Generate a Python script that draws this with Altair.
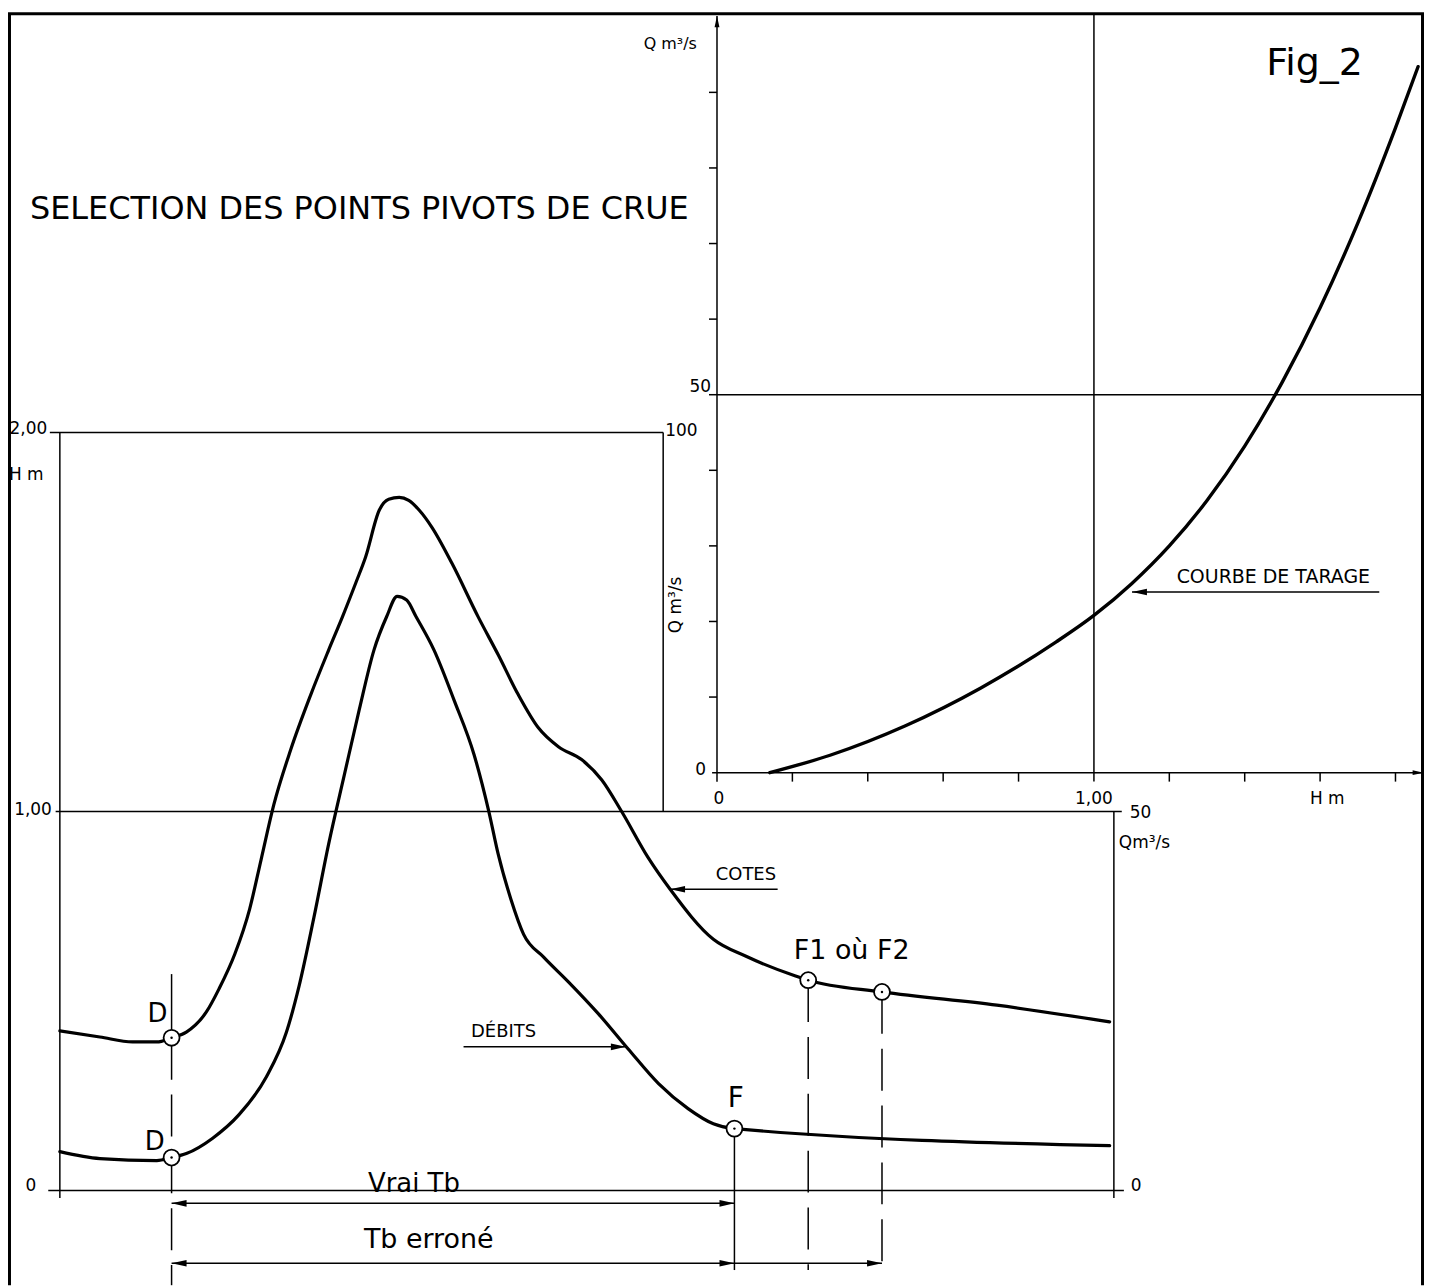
import altair as alt
import pandas as pd

W, HGT = 1420, 1279
FONT = "DejaVu Sans"

# ---------------- data ----------------
# hydrograph of stages (COTES), t in hours, H in m
cotes_t = [0, 3.8, 6.9, 9.2, 10.6, 12.0, 13.9, 15.1, 16.6, 18.0, 19.1, 20.3, 21.9, 23.8,
           25.5, 26.8, 28.1, 29.0, 30.3, 31.2, 32.2, 33.1, 34.1, 35.3, 37.2, 39.7, 41.6,
           43.5, 45.4, 47.3, 49.5, 51.4, 53.3, 55.8, 57.9, 62.0, 65.1, 69.8, 71.0, 78.0,
           88.9, 99.6]
cotes_h = [0.421, 0.405, 0.392, 0.392, 0.403, 0.418, 0.471, 0.532, 0.624, 0.742, 0.874,
           1.018, 1.163, 1.308, 1.426, 1.513, 1.605, 1.671, 1.795, 1.824, 1.829, 1.821,
           1.795, 1.750, 1.655, 1.513, 1.413, 1.308, 1.221, 1.171, 1.137, 1.084, 1.000,
           0.879, 0.795, 0.663, 0.618, 0.566, 0.555, 0.524, 0.489, 0.445]
# hydrograph of discharges (DEBITS), Q in m3/s
debits_t = [0, 3.8, 9.2, 10.6, 12.0, 14.5, 17.0, 19.6, 21.5, 22.7, 24.1, 25.5, 27.0, 28.4,
            29.8, 31.0, 32.0, 32.9, 33.8, 35.5, 37.4, 39.3, 40.7, 41.6, 42.8, 44.0, 45.9,
            48.2, 51.1, 53.9, 56.8, 59.6, 62.0, 64.0, 99.6]
debits_q = [5.13, 4.21, 3.95, 4.34, 4.87, 6.9, 10.0, 15.0, 20.9, 27.0, 36.0, 45.7, 54.9,
            63.4, 71.3, 75.7, 78.4, 77.9, 75.7, 71.3, 64.7, 57.5, 50.0, 44.3, 38.4, 33.8,
            30.8, 27.6, 23.3, 18.7, 14.1, 10.8, 8.8, 8.16, 5.92]
# rating curve (COURBE DE TARAGE)
tarage_h = [0.14, 0.3, 0.5, 0.7, 0.9, 1.0, 1.1, 1.2, 1.3, 1.4, 1.5, 1.6, 1.7, 1.8, 1.86]
tarage_q = [0.0, 2.3, 6.2, 11.2, 17.3, 20.8, 25.0, 30.0, 36.0, 43.2, 51.7, 61.5, 72.7, 85.3, 93.4]

# pivot points
T_D, T_F, T_F1, T_F2 = 10.6, 64.0, 71.0, 78.0
pivot_h_t = [T_D, T_F1, T_F2]
pivot_h_v = [0.403, 0.555, 0.524]
pivot_q_t = [T_D, T_F]
pivot_q_v = [4.34, 8.16]

inset_h_ticks = [0.2, 0.4, 0.6, 0.8, 1.0, 1.2, 1.4, 1.6, 1.8]
inset_q_ticks = [10, 20, 30, 40, 50, 60, 70, 80, 90]

# ---------------- scales (hand-placed panels on one canvas) ----------------
XM = alt.Scale(domain=[-4.9196, 129.423], nice=False, zero=False)   # time
YH = alt.Scale(domain=[-0.25, 3.11579], nice=False, zero=False)     # stage H (m)
YQ = alt.Scale(domain=[-12.5, 155.789], nice=False, zero=False)     # discharge Q
XI = alt.Scale(domain=[-1.88095, 1.87566], nice=False, zero=False)  # inset H
YI = alt.Scale(domain=[-67.810, 100.923], nice=False, zero=False)   # inset Q

ARROW = "M0,0L-1,-0.22L-1,0.22Z"
layers = []


def X(f, s):
    return alt.X(f"{f}:Q", scale=s, axis=None)


def Y(f, s):
    return alt.Y(f"{f}:Q", scale=s, axis=None)


def curve(xs_vals, ys_vals, xs, ys, width=3.2):
    df = pd.DataFrame({"x": xs_vals, "y": ys_vals})
    return alt.Chart(df).mark_line(color="black", strokeWidth=width, interpolate="monotone",
                                   strokeCap="round", strokeJoin="round").encode(
        x=X("x", xs), y=Y("y", ys))


def segs(rows, xs, ys, width=1.5, dash=None):
    df = pd.DataFrame(rows, columns=["x1", "y1", "x2", "y2"])
    kw = dict(color="black", strokeWidth=width)
    if dash:
        kw["strokeDash"] = dash
    return alt.Chart(df).mark_rule(**kw).encode(
        x=X("x1", xs), x2=alt.X2("x2:Q"), y=Y("y1", ys), y2=alt.Y2("y2:Q"))


def heads(rows, xs, ys, size=900):
    df = pd.DataFrame(rows, columns=["x", "y", "ang"])
    return alt.Chart(df).mark_point(shape=ARROW, filled=True, color="black", opacity=1,
                                    size=size, strokeWidth=0).encode(
        x=X("x", xs), y=Y("y", ys), angle=alt.Angle("ang:Q", scale=None))


def label(txt, xv, yv, xs, ys, size=17, align="center", baseline="middle", angle=0):
    df = pd.DataFrame({"x": [xv], "y": [yv], "t": [txt]})
    return alt.Chart(df).mark_text(font=FONT, fontSize=size, align=align, baseline=baseline,
                                   angle=angle, color="black").encode(
        x=X("x", xs), y=Y("y", ys), text="t:N")


def markers(tv, yv, ys):
    df = pd.DataFrame({"x": tv, "y": yv})
    ring = alt.Chart(df).mark_point(shape="circle", filled=True, fill="white", stroke="black",
                                    strokeWidth=1.8, size=256, opacity=1).encode(
        x=X("x", XM), y=Y("y", ys))
    dot = alt.Chart(df).mark_point(shape="circle", filled=True, color="black", size=6,
                                   opacity=1).encode(x=X("x", XM), y=Y("y", ys))
    return [ring, dot]


# ---------------- frame ----------------
one = pd.DataFrame({"a": [0]})
layers.append(alt.Chart(one).mark_rule(color="black", strokeWidth=3).encode(
    x=alt.value(1.5), y=alt.value(4), y2=alt.value(HGT)))
layers.append(alt.Chart(one).mark_rule(color="black", strokeWidth=3).encode(
    x=alt.value(0), x2=alt.value(W), y=alt.value(4)))
layers.append(alt.Chart(one).mark_rule(color="black", strokeWidth=3).encode(
    x=alt.value(W - 1.5), y=alt.value(4), y2=alt.value(HGT)))

# ---------------- main hydrograph frame ----------------
Y_VRAI, Y_ERR = -0.034, -0.192
main_solid = [
    (0, -0.02, 0, 2.0),            # left axis
    (-0.95, 2.0, 57.24, 2.0),      # top of box
    (57.24, 1.0, 57.24, 2.0),      # right side of box
    (-0.4, 1.0, 100.75, 1.0),      # 1,00 line
    (-1.1, 0.0, 100.95, 0.0),      # time axis
    (100, -0.02, 100, 1.0),        # right Q axis
    (T_D, 0.571, T_D, 0.403),      # above D
    (T_F, 8.16 / 50, T_F, -0.21),  # below F
    (T_D, Y_VRAI, T_F, Y_VRAI),    # Vrai Tb
    (T_D, Y_ERR, T_F2, Y_ERR),     # Tb errone
    (57.9, 0.795, 68.1, 0.795),    # COTES pointer
    (38.3, 0.379, 53.7, 0.379),    # DEBITS pointer
]
layers.append(segs(main_solid, XM, YH))
main_dashed = [
    (T_D, 0.403, T_D, -0.25),
    (T_F1, 0.555, T_F1, -0.21),
    (T_F2, 0.524, T_F2, -0.21),
]
layers.append(segs(main_dashed, XM, YH, dash=[42, 15]))
layers.append(heads([(T_D, Y_VRAI, 180), (T_F, Y_VRAI, 0), (T_D, Y_ERR, 180),
                     (T_F, Y_ERR, 0), (T_F2, Y_ERR, 0), (57.9, 0.795, 180),
                     (53.7, 0.379, 0)], XM, YH))

# curves
layers.append(curve(cotes_t, cotes_h, XM, YH))
layers.append(curve(debits_t, debits_q, XM, YQ))
layers += markers(pivot_h_t, pivot_h_v, YH)
layers += markers(pivot_q_t, pivot_q_v, YQ)

# main labels
layers.append(label("SELECTION DES POINTS PIVOTS DE CRUE", -2.84, 2.589, XM, YH, size=32, align="left"))
layers.append(label("2,00", -1.2, 1.997, XM, YH, align="right", baseline="alphabetic"))
layers.append(label("H m", -4.83, 1.889, XM, YH, align="left"))
layers.append(label("100", 57.43, 1.992, XM, YH, align="left", baseline="alphabetic"))
layers.append(label("Q m³/s", 58.47, 1.545, XM, YH, size=17, angle=270))
layers.append(label("1,00", -0.757, 1.005, XM, YH, align="right"))
layers.append(label("0", -2.74, 0.0105, XM, YH))
layers.append(label("50", 101.5, 0.997, XM, YH, align="left"))
layers.append(label("Qm³/s", 100.47, 0.918, XM, YH, align="left"))
layers.append(label("0", 101.6, 0.0105, XM, YH, align="left"))
layers.append(label("COTES", 65.09, 0.832, XM, YH, size=18))
layers.append(label("DÉBITS", 42.1, 0.418, XM, YH, size=18))
layers.append(label("D", 9.27, 0.466, XM, YH, size=26))
layers.append(label("D", 8.99, 0.129, XM, YH, size=26))
layers.append(label("F", 64.14, 0.242, XM, YH, size=28))
layers.append(label("F1 où F2", 75.12, 0.632, XM, YH, size=27))
layers.append(label("Vrai Tb", 33.59, -0.003, XM, YH, size=26, baseline="alphabetic"))
layers.append(label("Tb erroné", 35.0, -0.132, XM, YH, size=27))

# ---------------- inset: rating curve ----------------
inset_lines = [
    (0, -1.2, 0, 100.1),        # Q axis
    (-0.013, 0, 1.875, 0),      # H axis
    (0, 50, 1.89, 50),          # 50 grid line
    (1.0, 0, 1.0, 100.5),       # 1,00 grid line
    (1.101, 23.9, 1.757, 23.9), # COURBE DE TARAGE pointer
]
layers.append(segs(inset_lines, XI, YI))
layers.append(heads([(0, 100.1, 270), (1.875, 0, 0)], XI, YI, size=500))
layers.append(heads([(1.101, 23.9, 180)], XI, YI))
tx = pd.DataFrame({"h": inset_h_ticks, "q": [0] * len(inset_h_ticks)})
layers.append(alt.Chart(tx).mark_tick(orient="vertical", size=9, thickness=1.5, yOffset=4.5,
                                      color="black", opacity=1).encode(
    x=X("h", XI), y=Y("q", YI)))
ty = pd.DataFrame({"h": [0] * len(inset_q_ticks), "q": inset_q_ticks})
layers.append(alt.Chart(ty).mark_tick(orient="horizontal", size=8, thickness=1.5, xOffset=-4,
                                      color="black", opacity=1).encode(
    x=X("h", XI), y=Y("q", YI)))
layers.append(curve(tarage_h, tarage_q, XI, YI, width=3.4))

layers.append(label("Q m³/s", -0.124, 96.44, XI, YI, size=16))
layers.append(label("50", -0.016, 51.06, XI, YI, align="right"))
layers.append(label("0", -0.029, 0.4, XI, YI, align="right"))
layers.append(label("0", 0.005, -3.43, XI, YI))
layers.append(label("1,00", 1.0, -3.43, XI, YI))
layers.append(label("H m", 1.619, -3.43, XI, YI))
layers.append(label("Fig_2", 1.585, 93.8, XI, YI, size=38))
layers.append(label("COURBE DE TARAGE", 1.476, 25.86, XI, YI, size=19))

chart = alt.layer(*layers).resolve_scale(x="independent", y="independent").properties(
    width=W, height=HGT, padding=0, autosize=alt.AutoSizeParams(type="none"),
    background="white").configure_view(stroke=None)

chart.save("out.html", embed_options={"renderer": "svg", "actions": False})
